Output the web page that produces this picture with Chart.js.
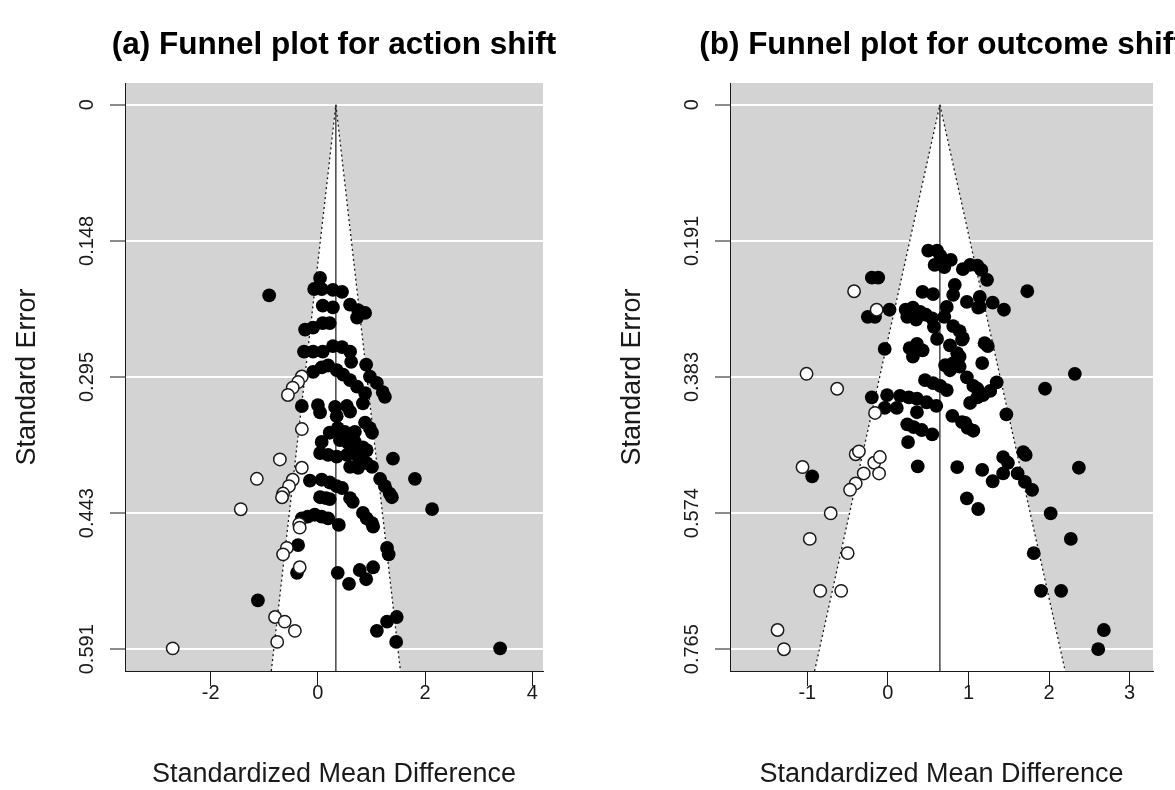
<!DOCTYPE html>
<html lang="en">
<head>
<meta charset="UTF-8">
<title>Funnel plots</title>
<script src="https://cdn.jsdelivr.net/npm/chart.js"></script>
<style>
  body { margin: 0; background: #fff; overflow: hidden; }
  canvas { position: absolute; top: 0; }
</style>
</head>
<body>
<canvas id="chartA" width="668" height="790" style="left:0"></canvas>
<canvas id="chartB" width="673" height="790" style="left:605px"></canvas>
<script>
// (a) action shift: observed studies
const actionSMD = [0.04, -0.07, 0.07, 0.28, 0.45, -0.91, 0.09, 0.28, 0.60, 0.75, 0.88, 0.73,
  -0.24, -0.09, 0.09, 0.22, -0.26, -0.09, 0.09, 0.28, 0.45, 0.60, 0.62, 0.90,
  -0.09, 0.07, 0.19, 0.35, 0.47, 0.60, 0.73, 0.88, 0.97, 1.10, 1.21, 1.25,
  -0.30, 0.00, 0.04, 0.32, 0.35, 0.54, 0.60, 0.84, 0.22, 0.37, 0.50, 0.69, 0.88, 0.97, 1.01,
  0.07, 0.41, 0.56, 0.69, 0.84, 0.91, 0.04, 0.19, 0.35, 0.54, 0.65, 0.75,
  0.60, 0.75, 0.91, 1.01, 1.40, -0.15, 0.07, 0.22, 0.35, 0.45, 1.16, 1.25, 1.34, 1.38, 1.81,
  0.04, 0.15, 0.22, 0.60, 0.65, 2.13, -0.30, -0.19, -0.06, 0.07, 0.19, 0.39,
  0.84, 0.91, 1.01, 1.03, -0.37, 1.29, 1.32, -0.39, 0.37, 0.58, 0.78, 0.90, 1.03,
  -1.12, 1.29, 1.47, 1.10, 1.46, 3.40];
const actionSE = [0.188, 0.200, 0.200, 0.201, 0.203, 0.207, 0.218, 0.220, 0.217, 0.223, 0.226, 0.231,
  0.244, 0.242, 0.237, 0.237, 0.268, 0.268, 0.268, 0.262, 0.263, 0.268, 0.279, 0.282,
  0.290, 0.285, 0.283, 0.288, 0.293, 0.299, 0.306, 0.313, 0.295, 0.302, 0.312, 0.317,
  0.327, 0.326, 0.334, 0.328, 0.338, 0.327, 0.333, 0.324, 0.356, 0.351, 0.355, 0.355, 0.345, 0.351, 0.356,
  0.366, 0.364, 0.367, 0.366, 0.372, 0.375, 0.378, 0.380, 0.382, 0.380, 0.377, 0.382,
  0.393, 0.394, 0.389, 0.393, 0.384, 0.408, 0.407, 0.410, 0.414, 0.416, 0.406, 0.414, 0.422, 0.426, 0.406,
  0.426, 0.427, 0.428, 0.427, 0.431, 0.439, 0.449, 0.447, 0.445, 0.447, 0.449, 0.456,
  0.443, 0.449, 0.454, 0.458, 0.478, 0.481, 0.488, 0.508, 0.508, 0.520, 0.505, 0.515, 0.502,
  0.538, 0.561, 0.556, 0.571, 0.583, 0.590];
// (a) action shift: trim-and-fill imputed studies
const actionFillSMD = [-0.30, -0.37, -0.47, -0.56, -0.30, -0.71, -0.30, -1.14, -0.47, -0.54, -0.65, -0.67,
  -1.44, -0.35, -0.34, -0.58, -0.65, -0.34, -0.80, -0.62, -0.43, -0.76, -2.71];
const actionFillSE = [0.295, 0.301, 0.307, 0.315, 0.352, 0.385, 0.394, 0.406, 0.407, 0.414, 0.422, 0.426,
  0.439, 0.455, 0.459, 0.481, 0.488, 0.502, 0.556, 0.561, 0.571, 0.583, 0.590];
const actionFunnelSMD = [-0.87, 0.335, 1.54];
const actionFunnelSE = [0.6146, 0, 0.6146];
const actionCenterSMD = [0.335, 0.335];
const actionCenterSE = [0, 0.6146];
const actionXTicks = [-2, 0, 2, 4];
const actionXLabels = ['-2', '0', '2', '4'];
const actionSETicks = [0, 0.14775, 0.2955, 0.44325, 0.591];
const actionSELabels = ['0', '0.148', '0.295', '0.443', '0.591'];

// (b) outcome shift: observed studies
const outcomeSMD = [0.50, 0.61, 0.65, 0.58, 0.70, 0.78, 0.93, 1.02, 1.11, 1.16, 1.23, -0.20, -0.12,
  0.83, 0.43, 0.56, 0.81, 0.98, 1.14, 1.14, 1.30, 1.44, 1.73, -0.25, -0.16,
  0.02, 0.22, 0.31, 0.40, 0.47, 0.55, 0.24, 0.35, 0.57, 0.73, 0.70, 0.81, 0.89, 0.93, 1.12,
  0.61, -0.04, 0.27, 0.36, 0.43, 0.31, 0.77, 0.86, 0.89, 0.81, 0.77, 0.92, 1.20, 1.24, 1.17,
  0.71, 0.89, 0.98, 1.06, 1.11, 1.18, 1.27, 1.35, 1.02, 1.11, 0.46, 0.56, 0.65, 0.73, 1.95, 2.32,
  -0.20, -0.01, 0.15, 0.26, 0.36, -0.04, 0.11, 0.48, 0.60, 0.36, 0.80, 0.92, 0.99, 1.06, 1.47,
  0.24, 0.32, 0.42, 0.55, 0.25, 0.96, -0.94, 0.37, 0.86, 1.17, 1.30, 1.43, 1.43, 1.49, 1.61,
  1.68, 1.71, 1.70, 1.79, 0.98, 1.12, 2.37, 2.02, 2.27, 1.81, 1.90, 2.15, 2.68, 2.61];
const outcomeSE = [0.205, 0.205, 0.212, 0.225, 0.228, 0.218, 0.231, 0.225, 0.226, 0.232, 0.246, 0.243, 0.243,
  0.253, 0.263, 0.266, 0.267, 0.277, 0.270, 0.284, 0.278, 0.288, 0.262, 0.298, 0.298,
  0.288, 0.288, 0.285, 0.291, 0.295, 0.300, 0.298, 0.302, 0.312, 0.284, 0.298, 0.311, 0.318, 0.328, 0.285,
  0.329, 0.343, 0.342, 0.336, 0.345, 0.354, 0.338, 0.349, 0.354, 0.363, 0.373, 0.330, 0.335, 0.339, 0.363,
  0.366, 0.368, 0.383, 0.395, 0.399, 0.408, 0.402, 0.390, 0.419, 0.411, 0.387, 0.391, 0.395, 0.401, 0.399, 0.378,
  0.411, 0.408, 0.409, 0.411, 0.413, 0.426, 0.426, 0.418, 0.423, 0.432, 0.437, 0.446, 0.454, 0.458, 0.435,
  0.449, 0.453, 0.457, 0.463, 0.474, 0.447, 0.522, 0.508, 0.509, 0.513, 0.529, 0.518, 0.495, 0.503, 0.518,
  0.488, 0.492, 0.530, 0.541, 0.553, 0.568, 0.510, 0.574, 0.610, 0.630, 0.683, 0.683, 0.738, 0.765];
// (b) outcome shift: trim-and-fill imputed studies
const outcomeFillSMD = [-0.42, -0.14, -1.01, -0.63, -0.16, -0.40, -0.36, -0.17, -0.10, -0.11, -0.30,
  -0.40, -0.47, -1.06, -0.71, -0.97, -0.50, -0.84, -0.58, -1.37, -1.29];
const outcomeFillSE = [0.262, 0.288, 0.378, 0.399, 0.433, 0.491, 0.487, 0.503, 0.495, 0.518, 0.518,
  0.532, 0.541, 0.509, 0.574, 0.610, 0.630, 0.683, 0.683, 0.738, 0.765];
const outcomeFunnelSMD = [-0.91, 0.645, 2.20];
const outcomeFunnelSE = [0.7956, 0, 0.7956];
const outcomeCenterSMD = [0.645, 0.645];
const outcomeCenterSE = [0, 0.7956];
const outcomeXTicks = [-1, 0, 1, 2, 3];
const outcomeXLabels = ['-1', '0', '1', '2', '3'];
const outcomeSETicks = [0, 0.19125, 0.3825, 0.57375, 0.765];
const outcomeSELabels = ['0', '0.191', '0.383', '0.574', '0.765'];

Chart.defaults.font.family = "'Liberation Sans', Arial, Helvetica, sans-serif";
Chart.defaults.color = '#1a1a1a';

// grey panel behind everything
const plotBg = {
  id: 'plotBg',
  beforeDraw(chart) {
    const {ctx, chartArea: a} = chart;
    ctx.save();
    ctx.fillStyle = '#d3d3d3';
    ctx.fillRect(a.left, a.top, a.right - a.left, a.bottom - a.top);
    ctx.restore();
  }
};

function points(xs, ys) {
  return xs.map((x, i) => ({x: x, y: ys[i]}));
}

function drawFunnel(id, o) {
  new Chart(document.getElementById(id), {
    type: 'scatter',
    data: {
      datasets: [
        {data: points(o.fillX, o.fillY), pointRadius: 6.2, pointBackgroundColor: '#fff',
         pointBorderColor: '#1a1a1a', pointBorderWidth: 1.5, order: 0},
        {data: points(o.obsX, o.obsY), pointRadius: 6.9, pointBackgroundColor: '#000',
         pointBorderColor: '#000', pointBorderWidth: 0, order: 1},
        {data: points(o.centerX, o.centerY), showLine: true, pointRadius: 0,
         borderColor: '#1a1a1a', borderWidth: 1.2, order: 2},
        {data: points(o.funnelX, o.funnelY), showLine: true, pointRadius: 0,
         borderColor: '#1a1a1a', borderWidth: 1.3, borderDash: [2, 3],
         backgroundColor: '#fff', fill: {value: o.yMax}, order: 3}
      ]
    },
    options: {
      responsive: false,
      animation: false,
      events: [],
      layout: {padding: 0},
      plugins: {
        legend: {display: false},
        tooltip: {enabled: false},
        title: {display: true, text: o.title, color: '#000',
                font: {size: 31.5, weight: 'bold', lineHeight: 1.2}, padding: {top: 26.1, bottom: 19.1}}
      },
      scales: {
        x: {
          type: 'linear', min: o.xMin, max: o.xMax,
          afterBuildTicks: s => { s.ticks = o.xTicks.map(v => ({value: v})); },
          afterFit: s => { s.height = 119; },
          ticks: {callback: (v, i) => o.xLabels[i], font: {size: 20}, padding: -5},
          grid: {drawOnChartArea: false, color: '#1a1a1a', tickLength: 15, lineWidth: 1},
          border: {color: '#1a1a1a', width: 1},
          title: {display: true, text: 'Standardized Mean Difference',
                  font: {size: 27, lineHeight: 1}, padding: {top: 0, bottom: 1.5}}
        },
        y: {
          type: 'linear', reverse: true, min: o.yMin, max: o.yMax,
          afterBuildTicks: s => { s.ticks = o.yTicks.map(v => ({value: v})); },
          afterFit: s => { s.width = 125; },
          ticks: {callback: (v, i) => o.yLabels[i], font: {size: 20},
                  minRotation: 90, maxRotation: 90, crossAlign: 'center', padding: -3},
          grid: {color: '#fff', lineWidth: 2, tickColor: '#1a1a1a', tickWidth: 1, tickLength: 15},
          border: {color: '#1a1a1a', width: 1},
          title: {display: true, text: 'Standard Error',
                  font: {size: 27, lineHeight: 1}, padding: {top: 14.5, bottom: 0}}
        },
        // empty right-hand margin, same width as the left axis, so the title centres on the panel
        margin: {
          type: 'linear', position: 'right',
          afterFit: s => { s.width = 125; },
          ticks: {display: false}, grid: {display: false}, border: {display: false}
        }
      }
    },
    plugins: [plotBg]
  });
}

drawFunnel('chartA', {
  title: '(a) Funnel plot for action shift',
  obsX: actionSMD, obsY: actionSE, fillX: actionFillSMD, fillY: actionFillSE,
  funnelX: actionFunnelSMD, funnelY: actionFunnelSE,
  centerX: actionCenterSMD, centerY: actionCenterSE,
  xMin: -3.6, xMax: 4.2, yMin: -0.0236, yMax: 0.6146,
  xTicks: actionXTicks, xLabels: actionXLabels, yTicks: actionSETicks, yLabels: actionSELabels
});

drawFunnel('chartB', {
  title: '(b) Funnel plot for outcome shift',
  obsX: outcomeSMD, obsY: outcomeSE, fillX: outcomeFillSMD, fillY: outcomeFillSE,
  funnelX: outcomeFunnelSMD, funnelY: outcomeFunnelSE,
  centerX: outcomeCenterSMD, centerY: outcomeCenterSE,
  xMin: -1.96, xMax: 3.29, yMin: -0.0306, yMax: 0.7956,
  xTicks: outcomeXTicks, xLabels: outcomeXLabels, yTicks: outcomeSETicks, yLabels: outcomeSELabels
});
</script>
</body>
</html>
